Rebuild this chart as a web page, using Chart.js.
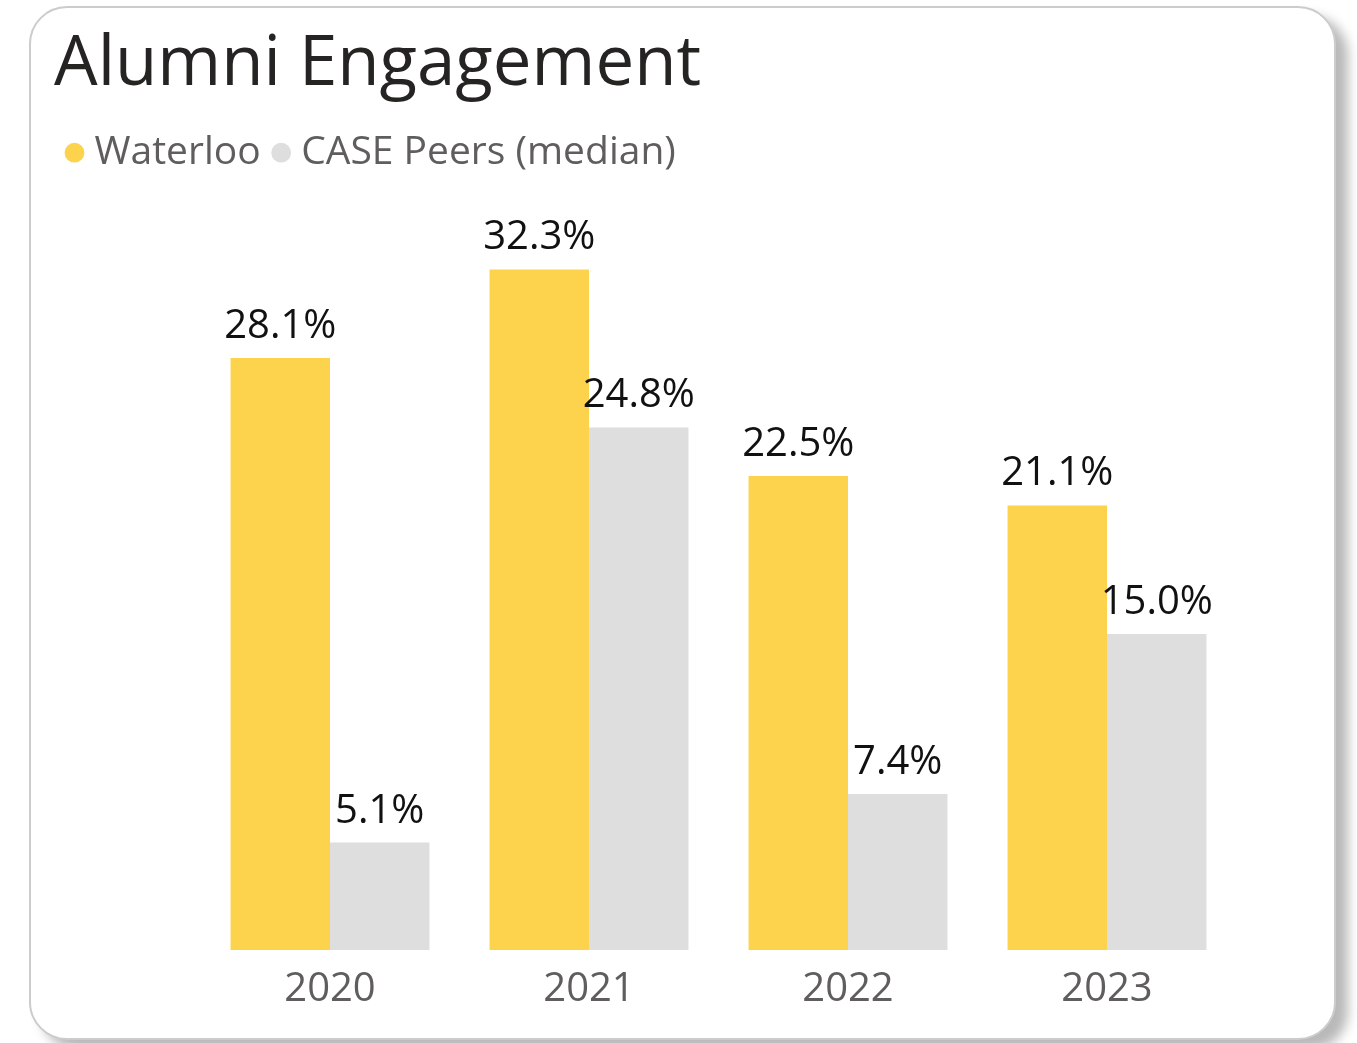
<!DOCTYPE html>
<html>
<head>
<meta charset="utf-8">
<script src="https://cdn.jsdelivr.net/npm/chart.js@4.4.1/dist/chart.umd.min.js"></script>
<style>
    html, body {
        margin: 0px;
        background-color: #ffffff;
        width: 1357px;
        height: 1043px;
        overflow: hidden;
    }
    #card {
        position: absolute;
        left: 29px;
        top: 6px;
        width: 1303px;
        height: 1030px;
        border: 2px solid #cccccc;
        border-radius: 38px;
        background-color: #ffffff;
        box-shadow: 12px 10px 12px rgba(0,0,0,0.28);
    }
    #chartContainer {
        position: absolute;
        left: 0px;
        top: 0px;
        width: 1357px;
        height: 1043px;
    }
</style>
</head>
<body>
<div id="card"></div>
<div id="chartContainer">
    <canvas id="mainChart"></canvas>
</div>
<script>
    // values
    var years = ["2020", "2021", "2022", "2023"];
    var waterloo = [28.1, 32.3, 22.5, 21.1];
    var casePeers = [5.1, 24.8, 7.4, 15.0];
    var seriesNames = ["Waterloo", "CASE Peers (median)"];

    var fontName = "'Open Sans', 'Noto Sans', sans-serif";

    // simple data label plugin, draws value above each bar
    var barLabels = {
        id: 'barLabels',
        afterDatasetsDraw: function(chart) {
            var ctx = chart.ctx;
            ctx.save();
            ctx.font = "40px " + fontName;
            ctx.fillStyle = "#111111";
            ctx.textAlign = "center";
            ctx.textBaseline = "alphabetic";
            chart.data.datasets.forEach(function(ds, i) {
                var meta = chart.getDatasetMeta(i);
                meta.data.forEach(function(bar, j) {
                    ctx.fillText(ds.data[j].toFixed(1) + "%", bar.x, bar.y - 20);
                });
            });
            ctx.restore();
        }
    };

    var ctx = document.getElementById("mainChart").getContext("2d");
    var chart = new Chart(ctx, {
        type: 'bar',
        data: {
            labels: years,
            datasets: [{
                label: seriesNames[0],
                data: waterloo,
                backgroundColor: '#FDD34E',
                borderWidth: 0
            },
            {
                label: seriesNames[1],
                data: casePeers,
                backgroundColor: '#DEDEDE',
                borderWidth: 0
            }]
        },
        options: {
            responsive: true,
            maintainAspectRatio: false,
            animation: false,
            layout: {
                padding: { left: 54, right: 120.5, top: 6, bottom: 0 }
            },
            datasets: {
                bar: {
                    categoryPercentage: 0.768,
                    barPercentage: 1.0
                }
            },
            scales: {
                x: {
                    grid: { display: false },
                    border: { display: false },
                    ticks: {
                        color: '#605E5C',
                        padding: 8,
                        font: { family: fontName, size: 40 }
                    },
                    afterFit: function(scale) { scale.height = 93; }
                },
                y: {
                    min: 0,
                    max: 36.44,
                    grid: { display: false },
                    border: { display: false },
                    ticks: { display: false },
                    afterFit: function(scale) { scale.width = 146.5; }
                }
            },
            plugins: {
                title: {
                    display: true,
                    text: 'Alumni Engagement',
                    align: 'start',
                    color: '#252423',
                    font: { family: fontName, size: 69, weight: 'normal' },
                    padding: { top: 18, bottom: 6.4 }
                },
                legend: {
                    display: true,
                    align: 'start',
                    labels: {
                        usePointStyle: true,
                        pointStyle: 'circle',
                        boxWidth: 1,
                        boxHeight: 14,
                        padding: 20,
                        color: '#605E5C',
                        font: { family: fontName, size: 39 }
                    }
                },
                tooltip: { enabled: false }
            }
        },
        plugins: [barLabels]
    });
</script>
</body>
</html>
